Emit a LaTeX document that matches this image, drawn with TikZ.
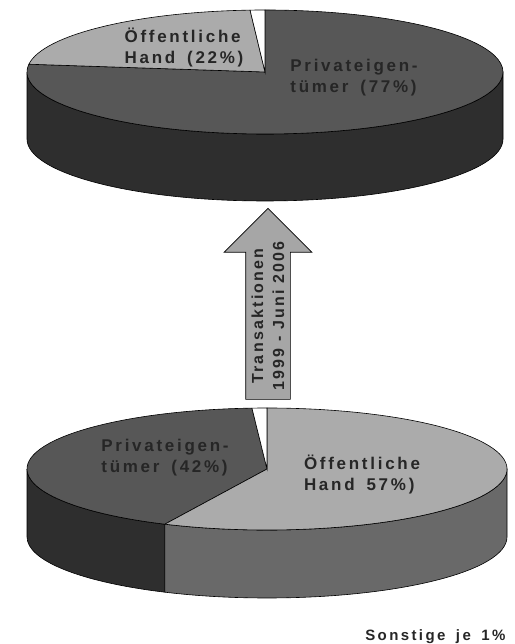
\documentclass[tikz,border=0pt]{standalone}
\usepackage{fontspec}
\setmainfont{Liberation Sans}
\newfontfamily\pielabel{Liberation Sans}[LetterSpace=16, WordSpace=1.6]
\newfontfamily\arrowlabel{Liberation Sans}[LetterSpace=14]
\usetikzlibrary{shapes.arrows,calc}

\definecolor{privtop}{gray}{0.34}
\definecolor{privside}{gray}{0.18}
\definecolor{pubtop}{gray}{0.67}
\definecolor{pubside}{gray}{0.41}
\definecolor{arrowgray}{gray}{0.65}

\begin{document}
\begin{tikzpicture}[
    x=1pt, y=1pt,
    pie edge/.style={draw=black, line width=0.6pt},
    slice label/.style={font=\pielabel\bfseries\fontsize{17}{21}\selectfont, align=left, text=black!85}
]
    \useasboundingbox (0,0) rectangle (514,644);
    % centres of the two pies
    \coordinate (top) at (265,572);
    \coordinate (bot) at (267,175);

    % upper pie (after): side, then slices
    \filldraw[pie edge, fill=privside] ($(top)+(180:238 and 62)$) arc[start angle=180, end angle=360, x radius=238, y radius=62]
        -- ++(0,-67) arc[start angle=360, end angle=180, x radius=238, y radius=62] -- cycle;
    \filldraw[pie edge, fill=privtop] (top) -- ++(172.8:238 and 62) arc[start angle=172.8, end angle=450, x radius=238, y radius=62] -- cycle;
    \filldraw[pie edge, fill=pubtop] (top) -- ++(93.6:238 and 62) arc[start angle=93.6, end angle=172.8, x radius=238, y radius=62] -- cycle;
    \filldraw[pie edge, fill=white] (top) -- ++(90:238 and 62) arc[start angle=90, end angle=93.6, x radius=238, y radius=62] -- cycle;

    % lower pie (before): side, then slices
    \filldraw[pie edge, fill=privside] ($(bot)+(180:240 and 61)$) arc[start angle=180, end angle=244.8, x radius=240, y radius=61]
        -- ++(0,-68) arc[start angle=244.8, end angle=180, x radius=240, y radius=61] -- cycle;
    \filldraw[pie edge, fill=pubside] ($(bot)+(244.8:240 and 61)$) arc[start angle=244.8, end angle=360, x radius=240, y radius=61]
        -- ++(0,-68) arc[start angle=360, end angle=244.8, x radius=240, y radius=61] -- cycle;
    \filldraw[pie edge, fill=privtop] (bot) -- ++(93.6:240 and 61) arc[start angle=93.6, end angle=244.8, x radius=240, y radius=61] -- cycle;
    \filldraw[pie edge, fill=pubtop] (bot) -- ++(244.8:240 and 61) arc[start angle=244.8, end angle=450, x radius=240, y radius=61] -- cycle;
    \filldraw[pie edge, fill=white] (bot) -- ++(90:240 and 61) arc[start angle=90, end angle=93.6, x radius=240, y radius=61] -- cycle;

    % slice labels
    \node[slice label] (pubTop) at (184,596) {Öffentliche\\Hand (22\%)};
    \node[slice label] (privTop) at (354,566) {Privateigen-\\tümer (77\%)};
    \node[slice label] (privBot) at (165,186) {Privateigen-\\tümer (42\%)};
    \node[slice label] (pubBot) at (362,169) {Öffentliche\\Hand 57\%)};

    % transfer arrow between the pies
    \node[single arrow, rotate=90, anchor=tip, draw=black, line width=0.6pt, fill=arrowgray,
          minimum height=191, minimum width=87, single arrow head extend=21.5,
          inner xsep=0, inner ysep=22] (shift) at (268,436) {};
    \node[slice label, font=\arrowlabel\bfseries\fontsize{16}{21}\selectfont, rotate=90, align=center]
        (trans) at (268,328) {Transaktionen\\1999 - Juni 2006};

    \node[slice label, font=\pielabel\bfseries\fontsize{15}{18}\selectfont, anchor=base east] (others) at (509,3) {Sonstige je 1\%};
\end{tikzpicture}
\end{document}
